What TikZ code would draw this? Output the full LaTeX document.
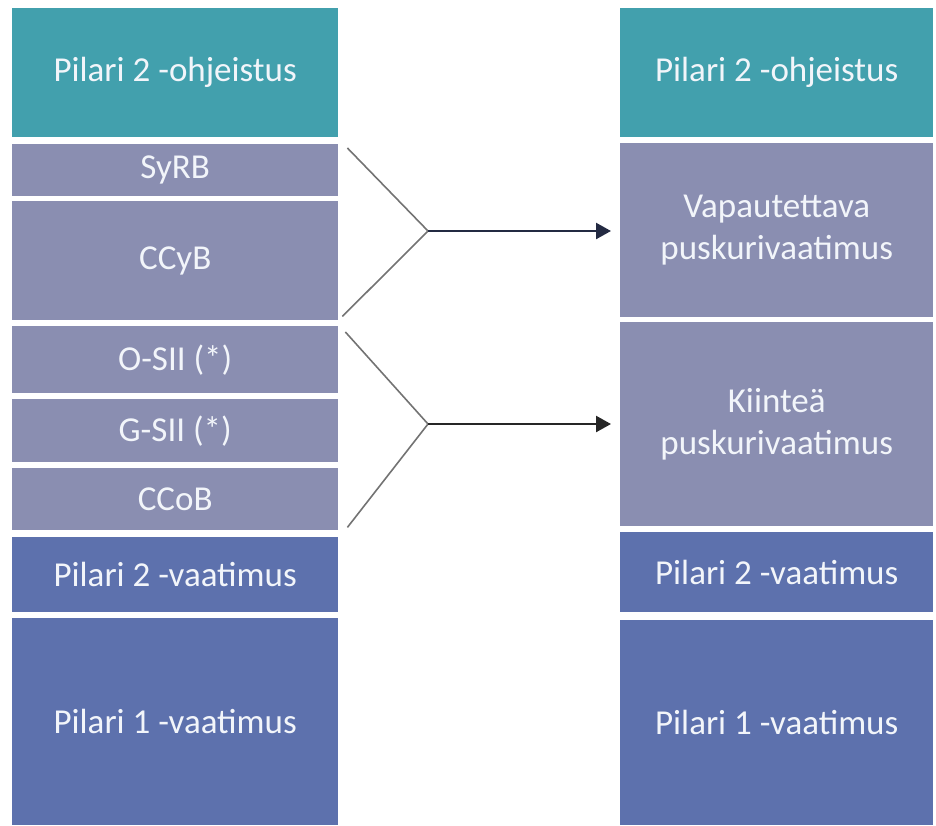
\documentclass[tikz,border=0pt]{standalone}
\usepackage{fontspec}
\setmainfont{Carlito}
\usepackage{tikz}
\usetikzlibrary{positioning,arrows.meta}

\definecolor{tealbox}{RGB}{66,160,173}
\definecolor{greybox}{RGB}{138,142,177}
\definecolor{bluebox}{RGB}{93,113,173}
\definecolor{boxtext}{RGB}{242,245,250}
\definecolor{arrowdark}{RGB}{35,42,66}

\tikzset{
    pillar/.style={anchor=north west, inner sep=0pt, text=boxtext, align=center,
        font=\fontsize{35}{42}\selectfont},
    tealpart/.style={pillar, fill=tealbox},
    greypart/.style={pillar, fill=greybox},
    bluepart/.style={pillar, fill=bluebox},
    fork/.style={draw, gray!90!black, line width=1.6pt},
    move/.style={draw, arrowdark, line width=2.4pt, -{Triangle[length=15pt, width=16pt]}}
}

\begin{document}
\begin{tikzpicture}[x=1pt, y=-1pt]

    \useasboundingbox (0,0) rectangle (936,825);
    \pgfmathsetmacro{\wl}{326}
    \pgfmathsetmacro{\wr}{313}

    % left stack
    \node[tealpart, minimum width=\wl pt, minimum height=129pt] (lguide) at (12,8) {Pilari 2 -ohjeistus};
    \node[greypart, minimum width=\wl pt, minimum height=52pt] (lsyrb) at (12,144) {SyRB};
    \node[greypart, minimum width=\wl pt, minimum height=119pt] (lccyb) at (12,201) {CCyB};
    \node[greypart, minimum width=\wl pt, minimum height=67pt] (losii) at (12,326) {O-SII (*)};
    \node[greypart, minimum width=\wl pt, minimum height=63pt] (lgsii) at (12,399) {G-SII (*)};
    \node[greypart, minimum width=\wl pt, minimum height=62pt] (lccob) at (12,468) {CCoB};
    \node[bluepart, minimum width=\wl pt, minimum height=75pt] (lreq2) at (12,537) {Pilari 2 -vaatimus};
    \node[bluepart, minimum width=\wl pt, minimum height=207pt] (lreq1) at (12,618) {Pilari 1 -vaatimus};

    % right stack
    \node[tealpart, minimum width=\wr pt, minimum height=129pt] (rguide) at (620,8) {Pilari 2 -ohjeistus};
    \node[greypart, minimum width=\wr pt, minimum height=174pt] (rfree) at (620,143) {Vapautettava\\puskurivaatimus};
    \node[greypart, minimum width=\wr pt, minimum height=204pt] (rfix) at (620,322) {Kiinteä\\puskurivaatimus};
    \node[bluepart, minimum width=\wr pt, minimum height=80pt] (rreq2) at (620,532) {Pilari 2 -vaatimus};
    \node[bluepart, minimum width=\wr pt, minimum height=205pt] (rreq1) at (620,620) {Pilari 1 -vaatimus};

    % forks
    \coordinate (topa) at ([xshift=9pt, yshift=-4pt]lsyrb.north east);
    \coordinate (bota) at ([xshift=4pt, yshift=4pt]lccyb.south east);
    \coordinate (tipa) at (428,231);
    \coordinate (topb) at ([xshift=7pt, yshift=-6pt]losii.north east);
    \coordinate (botb) at ([xshift=9pt, yshift=3pt]lccob.south east);
    \coordinate (tipb) at (428,424);

    \path[fork] (topa) -- (tipa) -- (bota);
    \path[fork] (topb) -- (tipb) -- (botb);

    % arrows
    \path[move] (tipa) -- ([xshift=-9pt]rfree.west |- tipa);
    \path[move, black!85] (tipb) -- ([xshift=-9pt]rfix.west |- tipb);

\end{tikzpicture}
\end{document}
